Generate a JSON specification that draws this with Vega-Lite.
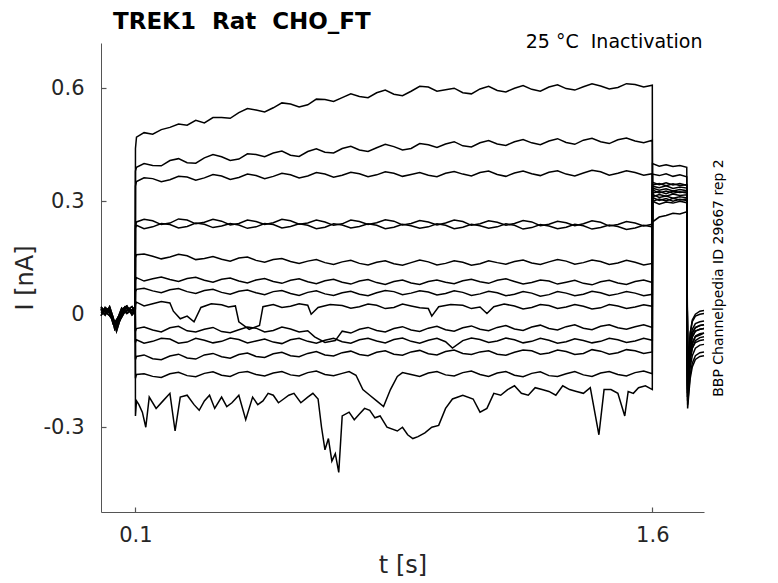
{
  "$schema": "https://vega.github.io/schema/vega-lite/v6.json",
  "width": 603,
  "height": 469,
  "autosize": {"type": "none"},
  "padding": {"left": 101, "top": 43, "right": 74, "bottom": 71},
  "background": "white",
  "title": {
    "text": "TREK1\u00a0\u00a0Rat\u00a0\u00a0CHO_FT",
    "anchor": "start",
    "frame": "group",
    "dx": 12,
    "dy": 24,
    "font": "DejaVu Sans",
    "fontSize": 23,
    "fontWeight": "bold",
    "color": "black",
    "baseline": "alphabetic",
    "offset": 4
  },
  "data": {
    "values": [
      {"k":1,"t":0,"i":0.008},{"k":1,"t":0.012,"i":0.015},{"k":1,"t":0.025,"i":0.002},{"k":1,"t":0.035,"i":-0.018},{"k":1,"t":0.045,"i":-0.035},{"k":1,"t":0.06,"i":0.006},{"k":1,"t":0.075,"i":0.018},{"k":1,"t":0.09,"i":0.004},{"k":1,"t":0.0995,"i":0.012},
      {"k":1,"t":0.1,"i":0.44},{"k":1,"t":0.103,"i":0.47},{"k":1,"t":0.125,"i":0.482},{"k":1,"t":0.15,"i":0.478},{"k":1,"t":0.175,"i":0.49},{"k":1,"t":0.2,"i":0.496},{"k":1,"t":0.225,"i":0.505},{"k":1,"t":0.25,"i":0.502},{"k":1,"t":0.275,"i":0.515},{"k":1,"t":0.3,"i":0.508},{"k":1,"t":0.35,"i":0.522},{"k":1,"t":0.4,"i":0.535},{"k":1,"t":0.45,"i":0.542},{"k":1,"t":0.5,"i":0.548},{"k":1,"t":0.55,"i":0.558},{"k":1,"t":0.6,"i":0.556},{"k":1,"t":0.65,"i":0.57},{"k":1,"t":0.7,"i":0.575},{"k":1,"t":0.75,"i":0.578},{"k":1,"t":0.8,"i":0.588},{"k":1,"t":0.85,"i":0.584},{"k":1,"t":0.9,"i":0.592},{"k":1,"t":0.95,"i":0.603},{"k":1,"t":1.0,"i":0.596},{"k":1,"t":1.05,"i":0.588},{"k":1,"t":1.1,"i":0.598},{"k":1,"t":1.15,"i":0.594},{"k":1,"t":1.2,"i":0.6},{"k":1,"t":1.25,"i":0.597},{"k":1,"t":1.3,"i":0.603},{"k":1,"t":1.35,"i":0.599},{"k":1,"t":1.4,"i":0.604},{"k":1,"t":1.45,"i":0.606},{"k":1,"t":1.5,"i":0.602},{"k":1,"t":1.55,"i":0.61},{"k":1,"t":1.6,"i":0.608},
      {"k":1,"t":0.325,"i":0.522},{"k":1,"t":0.375,"i":0.52},{"k":1,"t":0.425,"i":0.546},{"k":1,"t":0.475,"i":0.537},{"k":1,"t":0.525,"i":0.561},{"k":1,"t":0.575,"i":0.55},{"k":1,"t":0.625,"i":0.571},{"k":1,"t":0.675,"i":0.565},{"k":1,"t":0.725,"i":0.585},{"k":1,"t":0.775,"i":0.575},{"k":1,"t":0.825,"i":0.595},{"k":1,"t":0.875,"i":0.58},{"k":1,"t":0.925,"i":0.605},{"k":1,"t":0.975,"i":0.592},{"k":1,"t":1.025,"i":0.6},{"k":1,"t":1.075,"i":0.585},{"k":1,"t":1.125,"i":0.605},{"k":1,"t":1.175,"i":0.59},{"k":1,"t":1.225,"i":0.607},{"k":1,"t":1.275,"i":0.592},{"k":1,"t":1.325,"i":0.609},{"k":1,"t":1.375,"i":0.595},{"k":1,"t":1.425,"i":0.612},{"k":1,"t":1.475,"i":0.598},{"k":1,"t":1.525,"i":0.612},{"k":1,"t":1.575,"i":0.603},
      {"k":1,"t":1.6005,"i":0.245},{"k":1,"t":1.62,"i":0.258},{"k":1,"t":1.64,"i":0.262},{"k":1,"t":1.66,"i":0.268},{"k":1,"t":1.68,"i":0.266},{"k":1,"t":1.7,"i":0.272},
      {"k":1,"t":1.7025,"i":-0.21},{"k":1,"t":1.706,"i":-0.15},{"k":1,"t":1.71,"i":-0.11},{"k":1,"t":1.716,"i":-0.08},{"k":1,"t":1.725,"i":-0.06},{"k":1,"t":1.738,"i":-0.055},{"k":1,"t":1.75,"i":-0.05},

      {"k":2,"t":0,"i":0.014},{"k":2,"t":0.012,"i":-0.002},{"k":2,"t":0.025,"i":0.02},{"k":2,"t":0.035,"i":-0.008},{"k":2,"t":0.045,"i":-0.045},{"k":2,"t":0.06,"i":0.0},{"k":2,"t":0.075,"i":0.01},{"k":2,"t":0.09,"i":0.02},{"k":2,"t":0.0995,"i":0.005},
      {"k":2,"t":0.1,"i":0.38},{"k":2,"t":0.103,"i":0.39},{"k":2,"t":0.15,"i":0.395},{"k":2,"t":0.2,"i":0.408},{"k":2,"t":0.25,"i":0.402},{"k":2,"t":0.3,"i":0.415},{"k":2,"t":0.35,"i":0.418},{"k":2,"t":0.4,"i":0.412},{"k":2,"t":0.45,"i":0.424},{"k":2,"t":0.5,"i":0.428},{"k":2,"t":0.55,"i":0.422},{"k":2,"t":0.6,"i":0.432},{"k":2,"t":0.65,"i":0.43},{"k":2,"t":0.7,"i":0.44},{"k":2,"t":0.75,"i":0.436},{"k":2,"t":0.8,"i":0.442},{"k":2,"t":0.85,"i":0.445},{"k":2,"t":0.9,"i":0.44},{"k":2,"t":0.95,"i":0.45},{"k":2,"t":1.0,"i":0.452},{"k":2,"t":1.05,"i":0.447},{"k":2,"t":1.1,"i":0.455},{"k":2,"t":1.15,"i":0.452},{"k":2,"t":1.2,"i":0.458},{"k":2,"t":1.25,"i":0.455},{"k":2,"t":1.3,"i":0.46},{"k":2,"t":1.35,"i":0.456},{"k":2,"t":1.4,"i":0.462},{"k":2,"t":1.45,"i":0.458},{"k":2,"t":1.5,"i":0.463},{"k":2,"t":1.55,"i":0.46},{"k":2,"t":1.6,"i":0.462},
      {"k":2,"t":0.125,"i":0.4},{"k":2,"t":0.175,"i":0.394},{"k":2,"t":0.225,"i":0.413},{"k":2,"t":0.275,"i":0.401},{"k":2,"t":0.325,"i":0.424},{"k":2,"t":0.375,"i":0.408},{"k":2,"t":0.425,"i":0.426},{"k":2,"t":0.475,"i":0.418},{"k":2,"t":0.525,"i":0.433},{"k":2,"t":0.575,"i":0.419},{"k":2,"t":0.625,"i":0.439},{"k":2,"t":0.675,"i":0.428},{"k":2,"t":0.725,"i":0.446},{"k":2,"t":0.775,"i":0.432},{"k":2,"t":0.825,"i":0.451},{"k":2,"t":0.875,"i":0.436},{"k":2,"t":0.925,"i":0.453},{"k":2,"t":0.975,"i":0.443},{"k":2,"t":1.025,"i":0.458},{"k":2,"t":1.075,"i":0.444},{"k":2,"t":1.125,"i":0.461},{"k":2,"t":1.175,"i":0.448},{"k":2,"t":1.225,"i":0.464},{"k":2,"t":1.275,"i":0.45},{"k":2,"t":1.325,"i":0.466},{"k":2,"t":1.375,"i":0.451},{"k":2,"t":1.425,"i":0.467},{"k":2,"t":1.475,"i":0.453},{"k":2,"t":1.525,"i":0.468},{"k":2,"t":1.575,"i":0.455},
      {"k":2,"t":1.6005,"i":0.3},{"k":2,"t":1.62,"i":0.292},{"k":2,"t":1.64,"i":0.298},{"k":2,"t":1.66,"i":0.295},{"k":2,"t":1.68,"i":0.3},{"k":2,"t":1.7,"i":0.296},
      {"k":2,"t":1.7025,"i":-0.2},{"k":2,"t":1.706,"i":-0.13},{"k":2,"t":1.71,"i":-0.09},{"k":2,"t":1.716,"i":-0.06},{"k":2,"t":1.725,"i":-0.045},{"k":2,"t":1.738,"i":-0.04},{"k":2,"t":1.75,"i":-0.038},

      {"k":3,"t":0,"i":-0.004},{"k":3,"t":0.012,"i":0.018},{"k":3,"t":0.025,"i":0.008},{"k":3,"t":0.035,"i":-0.025},{"k":3,"t":0.045,"i":-0.02},{"k":3,"t":0.06,"i":0.016},{"k":3,"t":0.075,"i":0.002},{"k":3,"t":0.09,"i":0.012},{"k":3,"t":0.0995,"i":0.02},
      {"k":3,"t":0.1,"i":0.34},{"k":3,"t":0.103,"i":0.352},{"k":3,"t":0.15,"i":0.36},{"k":3,"t":0.2,"i":0.357},{"k":3,"t":0.25,"i":0.364},{"k":3,"t":0.3,"i":0.362},{"k":3,"t":0.35,"i":0.367},{"k":3,"t":0.4,"i":0.363},{"k":3,"t":0.45,"i":0.368},{"k":3,"t":0.5,"i":0.366},{"k":3,"t":0.55,"i":0.37},{"k":3,"t":0.6,"i":0.367},{"k":3,"t":0.65,"i":0.372},{"k":3,"t":0.7,"i":0.369},{"k":3,"t":0.75,"i":0.373},{"k":3,"t":0.8,"i":0.37},{"k":3,"t":0.85,"i":0.374},{"k":3,"t":0.9,"i":0.371},{"k":3,"t":0.95,"i":0.369},{"k":3,"t":1.0,"i":0.374},{"k":3,"t":1.05,"i":0.372},{"k":3,"t":1.1,"i":0.376},{"k":3,"t":1.15,"i":0.371},{"k":3,"t":1.2,"i":0.375},{"k":3,"t":1.25,"i":0.373},{"k":3,"t":1.3,"i":0.377},{"k":3,"t":1.35,"i":0.372},{"k":3,"t":1.4,"i":0.375},{"k":3,"t":1.45,"i":0.378},{"k":3,"t":1.5,"i":0.374},{"k":3,"t":1.55,"i":0.376},{"k":3,"t":1.6,"i":0.373},
      {"k":3,"t":0.125,"i":0.362},{"k":3,"t":0.175,"i":0.352},{"k":3,"t":0.225,"i":0.366},{"k":3,"t":0.275,"i":0.356},{"k":3,"t":0.325,"i":0.371},{"k":3,"t":0.375,"i":0.358},{"k":3,"t":0.425,"i":0.372},{"k":3,"t":0.475,"i":0.36},{"k":3,"t":0.525,"i":0.374},{"k":3,"t":0.575,"i":0.362},{"k":3,"t":0.625,"i":0.376},{"k":3,"t":0.675,"i":0.364},{"k":3,"t":0.725,"i":0.377},{"k":3,"t":0.775,"i":0.365},{"k":3,"t":0.825,"i":0.378},{"k":3,"t":0.875,"i":0.366},{"k":3,"t":0.925,"i":0.376},{"k":3,"t":0.975,"i":0.365},{"k":3,"t":1.025,"i":0.379},{"k":3,"t":1.075,"i":0.367},{"k":3,"t":1.125,"i":0.38},{"k":3,"t":1.175,"i":0.366},{"k":3,"t":1.225,"i":0.38},{"k":3,"t":1.275,"i":0.368},{"k":3,"t":1.325,"i":0.381},{"k":3,"t":1.375,"i":0.367},{"k":3,"t":1.425,"i":0.382},{"k":3,"t":1.475,"i":0.369},{"k":3,"t":1.525,"i":0.381},{"k":3,"t":1.575,"i":0.369},
      {"k":3,"t":1.6005,"i":0.31},{"k":3,"t":1.62,"i":0.302},{"k":3,"t":1.64,"i":0.307},{"k":3,"t":1.66,"i":0.3},{"k":3,"t":1.68,"i":0.305},{"k":3,"t":1.7,"i":0.302},
      {"k":3,"t":1.7025,"i":-0.19},{"k":3,"t":1.706,"i":-0.11},{"k":3,"t":1.71,"i":-0.07},{"k":3,"t":1.716,"i":-0.04},{"k":3,"t":1.725,"i":-0.025},{"k":3,"t":1.738,"i":-0.02},{"k":3,"t":1.75,"i":-0.018},

      {"k":4,"t":0,"i":0.02},{"k":4,"t":0.012,"i":0.006},{"k":4,"t":0.025,"i":0.014},{"k":4,"t":0.035,"i":-0.012},{"k":4,"t":0.045,"i":-0.03},{"k":4,"t":0.06,"i":0.012},{"k":4,"t":0.075,"i":0.022},{"k":4,"t":0.09,"i":-0.002},{"k":4,"t":0.0995,"i":0.008},
      {"k":4,"t":0.1,"i":0.235},{"k":4,"t":0.103,"i":0.245},{"k":4,"t":0.15,"i":0.248},{"k":4,"t":0.2,"i":0.242},{"k":4,"t":0.25,"i":0.25},{"k":4,"t":0.3,"i":0.244},{"k":4,"t":0.35,"i":0.247},{"k":4,"t":0.4,"i":0.241},{"k":4,"t":0.45,"i":0.246},{"k":4,"t":0.5,"i":0.243},{"k":4,"t":0.55,"i":0.248},{"k":4,"t":0.6,"i":0.242},{"k":4,"t":0.65,"i":0.245},{"k":4,"t":0.7,"i":0.24},{"k":4,"t":0.75,"i":0.246},{"k":4,"t":0.8,"i":0.243},{"k":4,"t":0.85,"i":0.247},{"k":4,"t":0.9,"i":0.241},{"k":4,"t":0.95,"i":0.245},{"k":4,"t":1.0,"i":0.242},{"k":4,"t":1.05,"i":0.246},{"k":4,"t":1.1,"i":0.24},{"k":4,"t":1.15,"i":0.244},{"k":4,"t":1.2,"i":0.241},{"k":4,"t":1.25,"i":0.245},{"k":4,"t":1.3,"i":0.239},{"k":4,"t":1.35,"i":0.243},{"k":4,"t":1.4,"i":0.24},{"k":4,"t":1.45,"i":0.244},{"k":4,"t":1.5,"i":0.238},{"k":4,"t":1.55,"i":0.242},{"k":4,"t":1.6,"i":0.239},
      {"k":4,"t":0.125,"i":0.252},{"k":4,"t":0.175,"i":0.238},{"k":4,"t":0.225,"i":0.253},{"k":4,"t":0.275,"i":0.24},{"k":4,"t":0.325,"i":0.252},{"k":4,"t":0.375,"i":0.237},{"k":4,"t":0.425,"i":0.25},{"k":4,"t":0.475,"i":0.238},{"k":4,"t":0.525,"i":0.252},{"k":4,"t":0.575,"i":0.239},{"k":4,"t":0.625,"i":0.25},{"k":4,"t":0.675,"i":0.236},{"k":4,"t":0.725,"i":0.25},{"k":4,"t":0.775,"i":0.238},{"k":4,"t":0.825,"i":0.251},{"k":4,"t":0.875,"i":0.237},{"k":4,"t":0.925,"i":0.249},{"k":4,"t":0.975,"i":0.237},{"k":4,"t":1.025,"i":0.25},{"k":4,"t":1.075,"i":0.236},{"k":4,"t":1.125,"i":0.248},{"k":4,"t":1.175,"i":0.236},{"k":4,"t":1.225,"i":0.249},{"k":4,"t":1.275,"i":0.235},{"k":4,"t":1.325,"i":0.247},{"k":4,"t":1.375,"i":0.235},{"k":4,"t":1.425,"i":0.248},{"k":4,"t":1.475,"i":0.234},{"k":4,"t":1.525,"i":0.246},{"k":4,"t":1.575,"i":0.234},
      {"k":4,"t":1.6005,"i":0.318},{"k":4,"t":1.62,"i":0.31},{"k":4,"t":1.64,"i":0.314},{"k":4,"t":1.66,"i":0.308},{"k":4,"t":1.68,"i":0.312},{"k":4,"t":1.7,"i":0.309},
      {"k":4,"t":1.7025,"i":-0.2},{"k":4,"t":1.706,"i":-0.12},{"k":4,"t":1.71,"i":-0.08},{"k":4,"t":1.716,"i":-0.05},{"k":4,"t":1.725,"i":-0.035},{"k":4,"t":1.738,"i":-0.03},{"k":4,"t":1.75,"i":-0.028},

      {"k":5,"t":0,"i":0.01},{"k":5,"t":0.025,"i":0.005},{"k":5,"t":0.04,"i":-0.03},{"k":5,"t":0.07,"i":0.015},{"k":5,"t":0.0995,"i":0.01},
      {"k":5,"t":0.1,"i":0.228},{"k":5,"t":0.103,"i":0.236},{"k":5,"t":0.15,"i":0.232},{"k":5,"t":0.2,"i":0.238},{"k":5,"t":0.25,"i":0.233},{"k":5,"t":0.3,"i":0.239},{"k":5,"t":0.35,"i":0.234},{"k":5,"t":0.4,"i":0.237},{"k":5,"t":0.45,"i":0.232},{"k":5,"t":0.5,"i":0.238},{"k":5,"t":0.55,"i":0.233},{"k":5,"t":0.6,"i":0.236},{"k":5,"t":0.65,"i":0.231},{"k":5,"t":0.7,"i":0.237},{"k":5,"t":0.75,"i":0.233},{"k":5,"t":0.8,"i":0.236},{"k":5,"t":0.85,"i":0.231},{"k":5,"t":0.9,"i":0.235},{"k":5,"t":0.95,"i":0.232},{"k":5,"t":1.0,"i":0.236},{"k":5,"t":1.05,"i":0.231},{"k":5,"t":1.1,"i":0.235},{"k":5,"t":1.15,"i":0.232},{"k":5,"t":1.2,"i":0.236},{"k":5,"t":1.25,"i":0.23},{"k":5,"t":1.3,"i":0.234},{"k":5,"t":1.35,"i":0.231},{"k":5,"t":1.4,"i":0.235},{"k":5,"t":1.45,"i":0.23},{"k":5,"t":1.5,"i":0.233},{"k":5,"t":1.55,"i":0.229},{"k":5,"t":1.6,"i":0.232},
      {"k":5,"t":0.125,"i":0.227},{"k":5,"t":0.175,"i":0.241},{"k":5,"t":0.225,"i":0.229},{"k":5,"t":0.275,"i":0.242},{"k":5,"t":0.325,"i":0.23},{"k":5,"t":0.375,"i":0.241},{"k":5,"t":0.425,"i":0.228},{"k":5,"t":0.475,"i":0.241},{"k":5,"t":0.525,"i":0.229},{"k":5,"t":0.575,"i":0.24},{"k":5,"t":0.625,"i":0.227},{"k":5,"t":0.675,"i":0.24},{"k":5,"t":0.725,"i":0.229},{"k":5,"t":0.775,"i":0.24},{"k":5,"t":0.825,"i":0.227},{"k":5,"t":0.875,"i":0.239},{"k":5,"t":0.925,"i":0.228},{"k":5,"t":0.975,"i":0.24},{"k":5,"t":1.025,"i":0.227},{"k":5,"t":1.075,"i":0.239},{"k":5,"t":1.125,"i":0.228},{"k":5,"t":1.175,"i":0.24},{"k":5,"t":1.225,"i":0.226},{"k":5,"t":1.275,"i":0.238},{"k":5,"t":1.325,"i":0.227},{"k":5,"t":1.375,"i":0.239},{"k":5,"t":1.425,"i":0.226},{"k":5,"t":1.475,"i":0.237},{"k":5,"t":1.525,"i":0.225},{"k":5,"t":1.575,"i":0.236},
      {"k":5,"t":1.6005,"i":0.312},{"k":5,"t":1.62,"i":0.318},{"k":5,"t":1.64,"i":0.313},{"k":5,"t":1.66,"i":0.319},{"k":5,"t":1.68,"i":0.315},{"k":5,"t":1.7,"i":0.317},
      {"k":5,"t":1.7025,"i":-0.22},{"k":5,"t":1.706,"i":-0.16},{"k":5,"t":1.71,"i":-0.12},{"k":5,"t":1.716,"i":-0.09},{"k":5,"t":1.725,"i":-0.07},{"k":5,"t":1.738,"i":-0.062},{"k":5,"t":1.75,"i":-0.06},

      {"k":6,"t":0,"i":0.004},{"k":6,"t":0.025,"i":0.016},{"k":6,"t":0.04,"i":-0.04},{"k":6,"t":0.07,"i":0.008},{"k":6,"t":0.0995,"i":0.014},
      {"k":6,"t":0.1,"i":0.15},{"k":6,"t":0.103,"i":0.158},{"k":6,"t":0.15,"i":0.154},{"k":6,"t":0.2,"i":0.152},{"k":6,"t":0.25,"i":0.155},{"k":6,"t":0.3,"i":0.148},{"k":6,"t":0.35,"i":0.146},{"k":6,"t":0.4,"i":0.149},{"k":6,"t":0.45,"i":0.143},{"k":6,"t":0.5,"i":0.145},{"k":6,"t":0.55,"i":0.14},{"k":6,"t":0.6,"i":0.141},{"k":6,"t":0.65,"i":0.137},{"k":6,"t":0.7,"i":0.139},{"k":6,"t":0.75,"i":0.135},{"k":6,"t":0.8,"i":0.138},{"k":6,"t":0.85,"i":0.134},{"k":6,"t":0.9,"i":0.137},{"k":6,"t":0.95,"i":0.139},{"k":6,"t":1.0,"i":0.135},{"k":6,"t":1.05,"i":0.138},{"k":6,"t":1.1,"i":0.134},{"k":6,"t":1.15,"i":0.137},{"k":6,"t":1.2,"i":0.14},{"k":6,"t":1.25,"i":0.136},{"k":6,"t":1.3,"i":0.139},{"k":6,"t":1.35,"i":0.141},{"k":6,"t":1.4,"i":0.137},{"k":6,"t":1.45,"i":0.14},{"k":6,"t":1.5,"i":0.136},{"k":6,"t":1.55,"i":0.138},{"k":6,"t":1.6,"i":0.135},
      {"k":6,"t":0.125,"i":0.16},{"k":6,"t":0.175,"i":0.147},{"k":6,"t":0.225,"i":0.159},{"k":6,"t":0.275,"i":0.145},{"k":6,"t":0.325,"i":0.153},{"k":6,"t":0.375,"i":0.141},{"k":6,"t":0.425,"i":0.152},{"k":6,"t":0.475,"i":0.138},{"k":6,"t":0.525,"i":0.148},{"k":6,"t":0.575,"i":0.135},{"k":6,"t":0.625,"i":0.145},{"k":6,"t":0.675,"i":0.132},{"k":6,"t":0.725,"i":0.143},{"k":6,"t":0.775,"i":0.131},{"k":6,"t":0.825,"i":0.142},{"k":6,"t":0.875,"i":0.13},{"k":6,"t":0.925,"i":0.144},{"k":6,"t":0.975,"i":0.131},{"k":6,"t":1.025,"i":0.142},{"k":6,"t":1.075,"i":0.13},{"k":6,"t":1.125,"i":0.142},{"k":6,"t":1.175,"i":0.133},{"k":6,"t":1.225,"i":0.144},{"k":6,"t":1.275,"i":0.132},{"k":6,"t":1.325,"i":0.145},{"k":6,"t":1.375,"i":0.133},{"k":6,"t":1.425,"i":0.144},{"k":6,"t":1.475,"i":0.132},{"k":6,"t":1.525,"i":0.143},{"k":6,"t":1.575,"i":0.131},
      {"k":6,"t":1.6005,"i":0.33},{"k":6,"t":1.62,"i":0.322},{"k":6,"t":1.64,"i":0.327},{"k":6,"t":1.66,"i":0.321},{"k":6,"t":1.68,"i":0.325},{"k":6,"t":1.7,"i":0.322},
      {"k":6,"t":1.7025,"i":-0.21},{"k":6,"t":1.706,"i":-0.15},{"k":6,"t":1.71,"i":-0.11},{"k":6,"t":1.716,"i":-0.075},{"k":6,"t":1.725,"i":-0.058},{"k":6,"t":1.738,"i":-0.052},{"k":6,"t":1.75,"i":-0.05},

      {"k":7,"t":0,"i":0.016},{"k":7,"t":0.025,"i":-0.004},{"k":7,"t":0.04,"i":-0.022},{"k":7,"t":0.07,"i":0.02},{"k":7,"t":0.0995,"i":0.006},
      {"k":7,"t":0.1,"i":0.09},{"k":7,"t":0.103,"i":0.097},{"k":7,"t":0.15,"i":0.094},{"k":7,"t":0.2,"i":0.092},{"k":7,"t":0.25,"i":0.095},{"k":7,"t":0.3,"i":0.09},{"k":7,"t":0.35,"i":0.093},{"k":7,"t":0.4,"i":0.088},{"k":7,"t":0.45,"i":0.091},{"k":7,"t":0.5,"i":0.087},{"k":7,"t":0.55,"i":0.09},{"k":7,"t":0.6,"i":0.086},{"k":7,"t":0.65,"i":0.089},{"k":7,"t":0.7,"i":0.085},{"k":7,"t":0.75,"i":0.088},{"k":7,"t":0.8,"i":0.084},{"k":7,"t":0.85,"i":0.087},{"k":7,"t":0.9,"i":0.083},{"k":7,"t":0.95,"i":0.087},{"k":7,"t":1.0,"i":0.085},{"k":7,"t":1.05,"i":0.089},{"k":7,"t":1.1,"i":0.086},{"k":7,"t":1.15,"i":0.09},{"k":7,"t":1.2,"i":0.087},{"k":7,"t":1.25,"i":0.084},{"k":7,"t":1.3,"i":0.088},{"k":7,"t":1.35,"i":0.085},{"k":7,"t":1.4,"i":0.082},{"k":7,"t":1.45,"i":0.086},{"k":7,"t":1.5,"i":0.083},{"k":7,"t":1.55,"i":0.087},{"k":7,"t":1.6,"i":0.084},
      {"k":7,"t":0.125,"i":0.088},{"k":7,"t":0.175,"i":0.099},{"k":7,"t":0.225,"i":0.087},{"k":7,"t":0.275,"i":0.098},{"k":7,"t":0.325,"i":0.085},{"k":7,"t":0.375,"i":0.096},{"k":7,"t":0.425,"i":0.083},{"k":7,"t":0.475,"i":0.095},{"k":7,"t":0.525,"i":0.082},{"k":7,"t":0.575,"i":0.094},{"k":7,"t":0.625,"i":0.081},{"k":7,"t":0.675,"i":0.093},{"k":7,"t":0.725,"i":0.08},{"k":7,"t":0.775,"i":0.092},{"k":7,"t":0.825,"i":0.079},{"k":7,"t":0.875,"i":0.091},{"k":7,"t":0.925,"i":0.079},{"k":7,"t":0.975,"i":0.091},{"k":7,"t":1.025,"i":0.081},{"k":7,"t":1.075,"i":0.093},{"k":7,"t":1.125,"i":0.082},{"k":7,"t":1.175,"i":0.094},{"k":7,"t":1.225,"i":0.08},{"k":7,"t":1.275,"i":0.091},{"k":7,"t":1.325,"i":0.08},{"k":7,"t":1.375,"i":0.09},{"k":7,"t":1.425,"i":0.078},{"k":7,"t":1.475,"i":0.09},{"k":7,"t":1.525,"i":0.079},{"k":7,"t":1.575,"i":0.091},
      {"k":7,"t":1.6005,"i":0.335},{"k":7,"t":1.62,"i":0.329},{"k":7,"t":1.64,"i":0.333},{"k":7,"t":1.66,"i":0.327},{"k":7,"t":1.68,"i":0.331},{"k":7,"t":1.7,"i":0.328},
      {"k":7,"t":1.7025,"i":-0.23},{"k":7,"t":1.706,"i":-0.18},{"k":7,"t":1.71,"i":-0.14},{"k":7,"t":1.716,"i":-0.11},{"k":7,"t":1.725,"i":-0.09},{"k":7,"t":1.738,"i":-0.082},{"k":7,"t":1.75,"i":-0.08},

      {"k":8,"t":0,"i":0.008},{"k":8,"t":0.012,"i":0.015},{"k":8,"t":0.025,"i":0.002},{"k":8,"t":0.035,"i":-0.018},{"k":8,"t":0.045,"i":-0.035},{"k":8,"t":0.06,"i":0.006},{"k":8,"t":0.075,"i":0.018},{"k":8,"t":0.09,"i":0.004},{"k":8,"t":0.0995,"i":0.012},
      {"k":8,"t":0.1,"i":0.06},{"k":8,"t":0.103,"i":0.066},{"k":8,"t":0.15,"i":0.062},{"k":8,"t":0.2,"i":0.065},{"k":8,"t":0.25,"i":0.06},{"k":8,"t":0.3,"i":0.063},{"k":8,"t":0.35,"i":0.058},{"k":8,"t":0.4,"i":0.061},{"k":8,"t":0.45,"i":0.057},{"k":8,"t":0.5,"i":0.06},{"k":8,"t":0.55,"i":0.055},{"k":8,"t":0.6,"i":0.058},{"k":8,"t":0.65,"i":0.054},{"k":8,"t":0.7,"i":0.057},{"k":8,"t":0.75,"i":0.053},{"k":8,"t":0.8,"i":0.057},{"k":8,"t":0.85,"i":0.06},{"k":8,"t":0.9,"i":0.056},{"k":8,"t":0.95,"i":0.059},{"k":8,"t":1.0,"i":0.055},{"k":8,"t":1.05,"i":0.058},{"k":8,"t":1.1,"i":0.054},{"k":8,"t":1.15,"i":0.057},{"k":8,"t":1.2,"i":0.053},{"k":8,"t":1.25,"i":0.056},{"k":8,"t":1.3,"i":0.052},{"k":8,"t":1.35,"i":0.056},{"k":8,"t":1.4,"i":0.053},{"k":8,"t":1.45,"i":0.057},{"k":8,"t":1.5,"i":0.054},{"k":8,"t":1.55,"i":0.056},{"k":8,"t":1.6,"i":0.053},
      {"k":8,"t":0.125,"i":0.069},{"k":8,"t":0.175,"i":0.057},{"k":8,"t":0.225,"i":0.068},{"k":8,"t":0.275,"i":0.055},{"k":8,"t":0.325,"i":0.066},{"k":8,"t":0.375,"i":0.053},{"k":8,"t":0.425,"i":0.064},{"k":8,"t":0.475,"i":0.052},{"k":8,"t":0.525,"i":0.063},{"k":8,"t":0.575,"i":0.05},{"k":8,"t":0.625,"i":0.062},{"k":8,"t":0.675,"i":0.05},{"k":8,"t":0.725,"i":0.061},{"k":8,"t":0.775,"i":0.049},{"k":8,"t":0.825,"i":0.063},{"k":8,"t":0.875,"i":0.052},{"k":8,"t":0.925,"i":0.062},{"k":8,"t":0.975,"i":0.051},{"k":8,"t":1.025,"i":0.062},{"k":8,"t":1.075,"i":0.05},{"k":8,"t":1.125,"i":0.061},{"k":8,"t":1.175,"i":0.049},{"k":8,"t":1.225,"i":0.06},{"k":8,"t":1.275,"i":0.048},{"k":8,"t":1.325,"i":0.06},{"k":8,"t":1.375,"i":0.049},{"k":8,"t":1.425,"i":0.061},{"k":8,"t":1.475,"i":0.05},{"k":8,"t":1.525,"i":0.06},{"k":8,"t":1.575,"i":0.049},
      {"k":8,"t":1.6005,"i":0.34},{"k":8,"t":1.62,"i":0.336},{"k":8,"t":1.64,"i":0.341},{"k":8,"t":1.66,"i":0.334},{"k":8,"t":1.68,"i":0.338},{"k":8,"t":1.7,"i":0.335},
      {"k":8,"t":1.7025,"i":-0.22},{"k":8,"t":1.706,"i":-0.13},{"k":8,"t":1.71,"i":-0.08},{"k":8,"t":1.716,"i":-0.05},{"k":8,"t":1.725,"i":-0.036},{"k":8,"t":1.738,"i":-0.03},{"k":8,"t":1.75,"i":-0.028},

      {"k":9,"t":0,"i":0.014},{"k":9,"t":0.012,"i":-0.002},{"k":9,"t":0.025,"i":0.02},{"k":9,"t":0.035,"i":-0.008},{"k":9,"t":0.045,"i":-0.045},{"k":9,"t":0.06,"i":0.0},{"k":9,"t":0.075,"i":0.01},{"k":9,"t":0.09,"i":0.02},{"k":9,"t":0.0995,"i":0.005},
      {"k":9,"t":0.1,"i":0.025},{"k":9,"t":0.103,"i":0.032},{"k":9,"t":0.15,"i":0.028},{"k":9,"t":0.2,"i":0.03},{"k":9,"t":0.21,"i":0.008},{"k":9,"t":0.23,"i":-0.012},{"k":9,"t":0.25,"i":-0.005},{"k":9,"t":0.27,"i":-0.02},{"k":9,"t":0.29,"i":0.018},{"k":9,"t":0.35,"i":0.025},{"k":9,"t":0.39,"i":0.022},{"k":9,"t":0.4,"i":-0.02},{"k":9,"t":0.43,"i":-0.04},{"k":9,"t":0.46,"i":-0.03},{"k":9,"t":0.47,"i":0.02},{"k":9,"t":0.5,"i":0.026},{"k":9,"t":0.55,"i":0.021},{"k":9,"t":0.6,"i":0.024},{"k":9,"t":0.61,"i":0.0},{"k":9,"t":0.63,"i":0.018},{"k":9,"t":0.7,"i":0.023},{"k":9,"t":0.75,"i":0.02},{"k":9,"t":0.8,"i":0.024},{"k":9,"t":0.85,"i":0.018},{"k":9,"t":0.9,"i":0.022},{"k":9,"t":0.95,"i":0.015},{"k":9,"t":0.96,"i":-0.005},{"k":9,"t":0.98,"i":0.02},{"k":9,"t":1.05,"i":0.024},{"k":9,"t":1.1,"i":0.019},{"k":9,"t":1.12,"i":0.002},{"k":9,"t":1.14,"i":0.02},{"k":9,"t":1.2,"i":0.022},{"k":9,"t":1.25,"i":0.018},{"k":9,"t":1.3,"i":0.023},{"k":9,"t":1.35,"i":0.019},{"k":9,"t":1.4,"i":0.021},{"k":9,"t":1.45,"i":0.017},{"k":9,"t":1.5,"i":0.022},{"k":9,"t":1.55,"i":0.019},{"k":9,"t":1.6,"i":0.021},
      {"k":9,"t":0.125,"i":0.022},{"k":9,"t":0.175,"i":0.034},{"k":9,"t":0.32,"i":0.028},{"k":9,"t":0.37,"i":0.019},{"k":9,"t":0.525,"i":0.018},{"k":9,"t":0.575,"i":0.028},{"k":9,"t":0.665,"i":0.026},{"k":9,"t":0.725,"i":0.016},{"k":9,"t":0.775,"i":0.027},{"k":9,"t":0.825,"i":0.015},{"k":9,"t":0.875,"i":0.027},{"k":9,"t":0.925,"i":0.017},{"k":9,"t":1.015,"i":0.026},{"k":9,"t":1.075,"i":0.015},{"k":9,"t":1.17,"i":0.027},{"k":9,"t":1.225,"i":0.014},{"k":9,"t":1.275,"i":0.026},{"k":9,"t":1.325,"i":0.015},{"k":9,"t":1.375,"i":0.026},{"k":9,"t":1.425,"i":0.014},{"k":9,"t":1.475,"i":0.026},{"k":9,"t":1.525,"i":0.015},{"k":9,"t":1.575,"i":0.025},
      {"k":9,"t":1.6005,"i":0.343},{"k":9,"t":1.62,"i":0.347},{"k":9,"t":1.64,"i":0.341},{"k":9,"t":1.66,"i":0.346},{"k":9,"t":1.68,"i":0.342},{"k":9,"t":1.7,"i":0.344},
      {"k":9,"t":1.7025,"i":-0.24},{"k":9,"t":1.706,"i":-0.2},{"k":9,"t":1.71,"i":-0.16},{"k":9,"t":1.716,"i":-0.13},{"k":9,"t":1.725,"i":-0.11},{"k":9,"t":1.738,"i":-0.102},{"k":9,"t":1.75,"i":-0.1},

      {"k":10,"t":0,"i":-0.004},{"k":10,"t":0.012,"i":0.018},{"k":10,"t":0.025,"i":0.008},{"k":10,"t":0.035,"i":-0.025},{"k":10,"t":0.045,"i":-0.02},{"k":10,"t":0.06,"i":0.016},{"k":10,"t":0.075,"i":0.002},{"k":10,"t":0.09,"i":0.012},{"k":10,"t":0.0995,"i":0.02},
      {"k":10,"t":0.1,"i":-0.045},{"k":10,"t":0.103,"i":-0.038},{"k":10,"t":0.15,"i":-0.042},{"k":10,"t":0.2,"i":-0.036},{"k":10,"t":0.25,"i":-0.044},{"k":10,"t":0.3,"i":-0.04},{"k":10,"t":0.35,"i":-0.046},{"k":10,"t":0.4,"i":-0.041},{"k":10,"t":0.45,"i":-0.037},{"k":10,"t":0.5,"i":-0.043},{"k":10,"t":0.55,"i":-0.039},{"k":10,"t":0.6,"i":-0.044},{"k":10,"t":0.62,"i":-0.06},{"k":10,"t":0.65,"i":-0.075},{"k":10,"t":0.68,"i":-0.07},{"k":10,"t":0.7,"i":-0.045},{"k":10,"t":0.75,"i":-0.04},{"k":10,"t":0.8,"i":-0.043},{"k":10,"t":0.85,"i":-0.038},{"k":10,"t":0.9,"i":-0.042},{"k":10,"t":0.95,"i":-0.037},{"k":10,"t":1.0,"i":-0.041},{"k":10,"t":1.05,"i":-0.036},{"k":10,"t":1.1,"i":-0.04},{"k":10,"t":1.15,"i":-0.035},{"k":10,"t":1.2,"i":-0.039},{"k":10,"t":1.25,"i":-0.034},{"k":10,"t":1.3,"i":-0.038},{"k":10,"t":1.35,"i":-0.033},{"k":10,"t":1.4,"i":-0.037},{"k":10,"t":1.45,"i":-0.032},{"k":10,"t":1.5,"i":-0.036},{"k":10,"t":1.55,"i":-0.033},{"k":10,"t":1.6,"i":-0.035},
      {"k":10,"t":0.125,"i":-0.034},{"k":10,"t":0.175,"i":-0.047},{"k":10,"t":0.225,"i":-0.032},{"k":10,"t":0.275,"i":-0.047},{"k":10,"t":0.325,"i":-0.035},{"k":10,"t":0.375,"i":-0.049},{"k":10,"t":0.425,"i":-0.034},{"k":10,"t":0.475,"i":-0.047},{"k":10,"t":0.525,"i":-0.034},{"k":10,"t":0.575,"i":-0.047},{"k":10,"t":0.725,"i":-0.05},{"k":10,"t":0.775,"i":-0.035},{"k":10,"t":0.825,"i":-0.047},{"k":10,"t":0.875,"i":-0.033},{"k":10,"t":0.925,"i":-0.046},{"k":10,"t":0.975,"i":-0.032},{"k":10,"t":1.025,"i":-0.045},{"k":10,"t":1.075,"i":-0.031},{"k":10,"t":1.125,"i":-0.044},{"k":10,"t":1.175,"i":-0.03},{"k":10,"t":1.225,"i":-0.043},{"k":10,"t":1.275,"i":-0.029},{"k":10,"t":1.325,"i":-0.042},{"k":10,"t":1.375,"i":-0.028},{"k":10,"t":1.425,"i":-0.041},{"k":10,"t":1.475,"i":-0.028},{"k":10,"t":1.525,"i":-0.04},{"k":10,"t":1.575,"i":-0.028},
      {"k":10,"t":1.6005,"i":0.35},{"k":10,"t":1.62,"i":0.344},{"k":10,"t":1.64,"i":0.349},{"k":10,"t":1.66,"i":0.343},{"k":10,"t":1.68,"i":0.347},{"k":10,"t":1.7,"i":0.342},
      {"k":10,"t":1.7025,"i":-0.25},{"k":10,"t":1.706,"i":-0.21},{"k":10,"t":1.71,"i":-0.17},{"k":10,"t":1.716,"i":-0.14},{"k":10,"t":1.725,"i":-0.12},{"k":10,"t":1.738,"i":-0.112},{"k":10,"t":1.75,"i":-0.11},

      {"k":11,"t":0,"i":0.02},{"k":11,"t":0.012,"i":0.006},{"k":11,"t":0.025,"i":0.014},{"k":11,"t":0.035,"i":-0.012},{"k":11,"t":0.045,"i":-0.03},{"k":11,"t":0.06,"i":0.012},{"k":11,"t":0.075,"i":0.022},{"k":11,"t":0.09,"i":-0.002},{"k":11,"t":0.0995,"i":0.008},
      {"k":11,"t":0.1,"i":-0.075},{"k":11,"t":0.103,"i":-0.068},{"k":11,"t":0.15,"i":-0.072},{"k":11,"t":0.2,"i":-0.066},{"k":11,"t":0.25,"i":-0.074},{"k":11,"t":0.3,"i":-0.069},{"k":11,"t":0.35,"i":-0.072},{"k":11,"t":0.4,"i":-0.067},{"k":11,"t":0.45,"i":-0.071},{"k":11,"t":0.5,"i":-0.074},{"k":11,"t":0.55,"i":-0.068},{"k":11,"t":0.6,"i":-0.072},{"k":11,"t":0.65,"i":-0.069},{"k":11,"t":0.7,"i":-0.073},{"k":11,"t":0.75,"i":-0.068},{"k":11,"t":0.8,"i":-0.071},{"k":11,"t":0.85,"i":-0.067},{"k":11,"t":0.9,"i":-0.072},{"k":11,"t":0.95,"i":-0.069},{"k":11,"t":1.0,"i":-0.073},{"k":11,"t":1.02,"i":-0.09},{"k":11,"t":1.05,"i":-0.07},{"k":11,"t":1.1,"i":-0.067},{"k":11,"t":1.15,"i":-0.071},{"k":11,"t":1.2,"i":-0.068},{"k":11,"t":1.25,"i":-0.072},{"k":11,"t":1.3,"i":-0.069},{"k":11,"t":1.35,"i":-0.073},{"k":11,"t":1.4,"i":-0.07},{"k":11,"t":1.45,"i":-0.072},{"k":11,"t":1.5,"i":-0.068},{"k":11,"t":1.55,"i":-0.071},{"k":11,"t":1.6,"i":-0.069},
      {"k":11,"t":0.125,"i":-0.077},{"k":11,"t":0.175,"i":-0.064},{"k":11,"t":0.225,"i":-0.077},{"k":11,"t":0.275,"i":-0.064},{"k":11,"t":0.325,"i":-0.076},{"k":11,"t":0.375,"i":-0.063},{"k":11,"t":0.425,"i":-0.076},{"k":11,"t":0.475,"i":-0.066},{"k":11,"t":0.525,"i":-0.078},{"k":11,"t":0.575,"i":-0.064},{"k":11,"t":0.625,"i":-0.077},{"k":11,"t":0.675,"i":-0.064},{"k":11,"t":0.725,"i":-0.077},{"k":11,"t":0.775,"i":-0.064},{"k":11,"t":0.825,"i":-0.076},{"k":11,"t":0.875,"i":-0.063},{"k":11,"t":0.925,"i":-0.077},{"k":11,"t":0.975,"i":-0.064},{"k":11,"t":1.075,"i":-0.063},{"k":11,"t":1.125,"i":-0.075},{"k":11,"t":1.175,"i":-0.063},{"k":11,"t":1.225,"i":-0.076},{"k":11,"t":1.275,"i":-0.064},{"k":11,"t":1.325,"i":-0.077},{"k":11,"t":1.375,"i":-0.065},{"k":11,"t":1.425,"i":-0.076},{"k":11,"t":1.475,"i":-0.064},{"k":11,"t":1.525,"i":-0.075},{"k":11,"t":1.575,"i":-0.064},
      {"k":11,"t":1.6005,"i":0.372},{"k":11,"t":1.62,"i":0.368},{"k":11,"t":1.64,"i":0.373},{"k":11,"t":1.66,"i":0.366},{"k":11,"t":1.68,"i":0.37},{"k":11,"t":1.7,"i":0.365},
      {"k":11,"t":1.7025,"i":-0.2},{"k":11,"t":1.706,"i":-0.1},{"k":11,"t":1.71,"i":-0.05},{"k":11,"t":1.716,"i":-0.02},{"k":11,"t":1.725,"i":-0.005},{"k":11,"t":1.738,"i":0.0},{"k":11,"t":1.75,"i":0.002},

      {"k":12,"t":0,"i":0.01},{"k":12,"t":0.025,"i":0.005},{"k":12,"t":0.04,"i":-0.03},{"k":12,"t":0.07,"i":0.015},{"k":12,"t":0.0995,"i":0.01},
      {"k":12,"t":0.1,"i":-0.12},{"k":12,"t":0.103,"i":-0.112},{"k":12,"t":0.15,"i":-0.118},{"k":12,"t":0.2,"i":-0.111},{"k":12,"t":0.25,"i":-0.116},{"k":12,"t":0.3,"i":-0.108},{"k":12,"t":0.35,"i":-0.113},{"k":12,"t":0.4,"i":-0.107},{"k":12,"t":0.45,"i":-0.112},{"k":12,"t":0.5,"i":-0.105},{"k":12,"t":0.55,"i":-0.11},{"k":12,"t":0.6,"i":-0.104},{"k":12,"t":0.65,"i":-0.108},{"k":12,"t":0.7,"i":-0.102},{"k":12,"t":0.75,"i":-0.107},{"k":12,"t":0.8,"i":-0.101},{"k":12,"t":0.85,"i":-0.106},{"k":12,"t":0.9,"i":-0.1},{"k":12,"t":0.95,"i":-0.105},{"k":12,"t":1.0,"i":-0.099},{"k":12,"t":1.05,"i":-0.104},{"k":12,"t":1.1,"i":-0.1},{"k":12,"t":1.15,"i":-0.106},{"k":12,"t":1.2,"i":-0.101},{"k":12,"t":1.25,"i":-0.097},{"k":12,"t":1.3,"i":-0.103},{"k":12,"t":1.35,"i":-0.099},{"k":12,"t":1.4,"i":-0.104},{"k":12,"t":1.45,"i":-0.098},{"k":12,"t":1.5,"i":-0.102},{"k":12,"t":1.55,"i":-0.097},{"k":12,"t":1.6,"i":-0.1},
      {"k":12,"t":0.125,"i":-0.108},{"k":12,"t":0.175,"i":-0.121},{"k":12,"t":0.225,"i":-0.106},{"k":12,"t":0.275,"i":-0.119},{"k":12,"t":0.325,"i":-0.104},{"k":12,"t":0.375,"i":-0.117},{"k":12,"t":0.425,"i":-0.103},{"k":12,"t":0.475,"i":-0.115},{"k":12,"t":0.525,"i":-0.101},{"k":12,"t":0.575,"i":-0.113},{"k":12,"t":0.625,"i":-0.099},{"k":12,"t":0.675,"i":-0.111},{"k":12,"t":0.725,"i":-0.098},{"k":12,"t":0.775,"i":-0.11},{"k":12,"t":0.825,"i":-0.097},{"k":12,"t":0.875,"i":-0.109},{"k":12,"t":0.925,"i":-0.096},{"k":12,"t":0.975,"i":-0.108},{"k":12,"t":1.025,"i":-0.095},{"k":12,"t":1.075,"i":-0.107},{"k":12,"t":1.125,"i":-0.097},{"k":12,"t":1.175,"i":-0.109},{"k":12,"t":1.225,"i":-0.095},{"k":12,"t":1.275,"i":-0.106},{"k":12,"t":1.325,"i":-0.095},{"k":12,"t":1.375,"i":-0.107},{"k":12,"t":1.425,"i":-0.094},{"k":12,"t":1.475,"i":-0.106},{"k":12,"t":1.525,"i":-0.094},{"k":12,"t":1.575,"i":-0.104},
      {"k":12,"t":1.6005,"i":0.4},{"k":12,"t":1.62,"i":0.393},{"k":12,"t":1.64,"i":0.397},{"k":12,"t":1.66,"i":0.392},{"k":12,"t":1.68,"i":0.395},{"k":12,"t":1.7,"i":0.39},
      {"k":12,"t":1.7025,"i":-0.21},{"k":12,"t":1.706,"i":-0.11},{"k":12,"t":1.71,"i":-0.05},{"k":12,"t":1.716,"i":-0.015},{"k":12,"t":1.725,"i":0.0},{"k":12,"t":1.738,"i":0.008},{"k":12,"t":1.75,"i":0.01},

      {"k":13,"t":0,"i":0.004},{"k":13,"t":0.025,"i":0.016},{"k":13,"t":0.04,"i":-0.04},{"k":13,"t":0.07,"i":0.008},{"k":13,"t":0.0995,"i":0.014},
      {"k":13,"t":0.1,"i":-0.17},{"k":13,"t":0.103,"i":-0.16},{"k":13,"t":0.15,"i":-0.165},{"k":13,"t":0.2,"i":-0.158},{"k":13,"t":0.25,"i":-0.163},{"k":13,"t":0.3,"i":-0.157},{"k":13,"t":0.35,"i":-0.162},{"k":13,"t":0.4,"i":-0.155},{"k":13,"t":0.45,"i":-0.16},{"k":13,"t":0.5,"i":-0.156},{"k":13,"t":0.55,"i":-0.161},{"k":13,"t":0.6,"i":-0.155},{"k":13,"t":0.65,"i":-0.16},{"k":13,"t":0.7,"i":-0.157},{"k":13,"t":0.74,"i":-0.162},{"k":13,"t":0.76,"i":-0.2},{"k":13,"t":0.78,"i":-0.215},{"k":13,"t":0.8,"i":-0.23},{"k":13,"t":0.82,"i":-0.245},{"k":13,"t":0.84,"i":-0.2},{"k":13,"t":0.86,"i":-0.165},{"k":13,"t":0.9,"i":-0.16},{"k":13,"t":0.95,"i":-0.156},{"k":13,"t":1.0,"i":-0.161},{"k":13,"t":1.05,"i":-0.155},{"k":13,"t":1.1,"i":-0.16},{"k":13,"t":1.15,"i":-0.156},{"k":13,"t":1.2,"i":-0.162},{"k":13,"t":1.25,"i":-0.157},{"k":13,"t":1.3,"i":-0.163},{"k":13,"t":1.35,"i":-0.158},{"k":13,"t":1.4,"i":-0.161},{"k":13,"t":1.45,"i":-0.156},{"k":13,"t":1.5,"i":-0.16},{"k":13,"t":1.55,"i":-0.155},{"k":13,"t":1.6,"i":-0.158},
      {"k":13,"t":0.125,"i":-0.158},{"k":13,"t":0.175,"i":-0.168},{"k":13,"t":0.225,"i":-0.154},{"k":13,"t":0.275,"i":-0.166},{"k":13,"t":0.325,"i":-0.153},{"k":13,"t":0.375,"i":-0.165},{"k":13,"t":0.425,"i":-0.152},{"k":13,"t":0.475,"i":-0.164},{"k":13,"t":0.525,"i":-0.152},{"k":13,"t":0.575,"i":-0.164},{"k":13,"t":0.625,"i":-0.151},{"k":13,"t":0.675,"i":-0.163},{"k":13,"t":0.72,"i":-0.152},{"k":13,"t":0.875,"i":-0.155},{"k":13,"t":0.925,"i":-0.165},{"k":13,"t":0.975,"i":-0.152},{"k":13,"t":1.025,"i":-0.164},{"k":13,"t":1.075,"i":-0.151},{"k":13,"t":1.125,"i":-0.165},{"k":13,"t":1.175,"i":-0.152},{"k":13,"t":1.225,"i":-0.166},{"k":13,"t":1.275,"i":-0.153},{"k":13,"t":1.325,"i":-0.165},{"k":13,"t":1.375,"i":-0.152},{"k":13,"t":1.425,"i":-0.165},{"k":13,"t":1.475,"i":-0.152},{"k":13,"t":1.525,"i":-0.164},{"k":13,"t":1.575,"i":-0.151},
      {"k":13,"t":1.6005,"i":0.3},{"k":13,"t":1.62,"i":0.306},{"k":13,"t":1.64,"i":0.301},{"k":13,"t":1.66,"i":0.308},{"k":13,"t":1.68,"i":0.303},{"k":13,"t":1.7,"i":0.306},
      {"k":13,"t":1.7025,"i":-0.23},{"k":13,"t":1.706,"i":-0.17},{"k":13,"t":1.71,"i":-0.12},{"k":13,"t":1.716,"i":-0.09},{"k":13,"t":1.725,"i":-0.075},{"k":13,"t":1.738,"i":-0.07},{"k":13,"t":1.75,"i":-0.068},

      {"k":14,"t":0,"i":0.016},{"k":14,"t":0.025,"i":-0.004},{"k":14,"t":0.04,"i":-0.022},{"k":14,"t":0.07,"i":0.02},{"k":14,"t":0.0995,"i":0.006},
      {"k":14,"t":0.1,"i":-0.27},{"k":14,"t":0.103,"i":-0.23},{"k":14,"t":0.12,"i":-0.26},{"k":14,"t":0.13,"i":-0.3},{"k":14,"t":0.14,"i":-0.22},{"k":14,"t":0.16,"i":-0.25},{"k":14,"t":0.18,"i":-0.23},{"k":14,"t":0.2,"i":-0.21},{"k":14,"t":0.215,"i":-0.31},{"k":14,"t":0.23,"i":-0.22},{"k":14,"t":0.27,"i":-0.24},{"k":14,"t":0.3,"i":-0.23},{"k":14,"t":0.33,"i":-0.25},{"k":14,"t":0.35,"i":-0.22},{"k":14,"t":0.38,"i":-0.235},{"k":14,"t":0.4,"i":-0.215},{"k":14,"t":0.42,"i":-0.28},{"k":14,"t":0.44,"i":-0.22},{"k":14,"t":0.47,"i":-0.23},{"k":14,"t":0.5,"i":-0.215},{"k":14,"t":0.53,"i":-0.225},{"k":14,"t":0.56,"i":-0.21},{"k":14,"t":0.6,"i":-0.22},{"k":14,"t":0.63,"i":-0.225},{"k":14,"t":0.64,"i":-0.3},{"k":14,"t":0.65,"i":-0.36},{"k":14,"t":0.66,"i":-0.33},{"k":14,"t":0.67,"i":-0.39},{"k":14,"t":0.68,"i":-0.37},{"k":14,"t":0.69,"i":-0.42},{"k":14,"t":0.7,"i":-0.27},{"k":14,"t":0.72,"i":-0.26},{"k":14,"t":0.75,"i":-0.265},{"k":14,"t":0.78,"i":-0.255},{"k":14,"t":0.81,"i":-0.27},{"k":14,"t":0.83,"i":-0.3},{"k":14,"t":0.86,"i":-0.31},{"k":14,"t":0.89,"i":-0.32},{"k":14,"t":0.92,"i":-0.325},{"k":14,"t":0.94,"i":-0.315},{"k":14,"t":0.96,"i":-0.3},{"k":14,"t":0.98,"i":-0.295},{"k":14,"t":1.0,"i":-0.25},{"k":14,"t":1.02,"i":-0.225},{"k":14,"t":1.05,"i":-0.215},{"k":14,"t":1.08,"i":-0.225},{"k":14,"t":1.1,"i":-0.26},{"k":14,"t":1.12,"i":-0.25},{"k":14,"t":1.14,"i":-0.21},{"k":14,"t":1.18,"i":-0.2},{"k":14,"t":1.22,"i":-0.21},{"k":14,"t":1.26,"i":-0.195},{"k":14,"t":1.3,"i":-0.205},{"k":14,"t":1.34,"i":-0.19},{"k":14,"t":1.38,"i":-0.205},{"k":14,"t":1.42,"i":-0.195},{"k":14,"t":1.445,"i":-0.32},{"k":14,"t":1.46,"i":-0.2},{"k":14,"t":1.5,"i":-0.21},{"k":14,"t":1.52,"i":-0.27},{"k":14,"t":1.53,"i":-0.205},{"k":14,"t":1.56,"i":-0.195},{"k":14,"t":1.6,"i":-0.2},
      {"k":14,"t":0.11,"i":-0.24},{"k":14,"t":0.25,"i":-0.215},{"k":14,"t":0.285,"i":-0.255},{"k":14,"t":0.315,"i":-0.215},{"k":14,"t":0.365,"i":-0.245},{"k":14,"t":0.39,"i":-0.225},{"k":14,"t":0.455,"i":-0.24},{"k":14,"t":0.485,"i":-0.21},{"k":14,"t":0.515,"i":-0.235},{"k":14,"t":0.545,"i":-0.215},{"k":14,"t":0.58,"i":-0.235},{"k":14,"t":0.615,"i":-0.21},{"k":14,"t":0.735,"i":-0.28},{"k":14,"t":0.765,"i":-0.25},{"k":14,"t":0.795,"i":-0.275},{"k":14,"t":0.875,"i":-0.3},{"k":14,"t":0.905,"i":-0.33},{"k":14,"t":1.16,"i":-0.215},{"k":14,"t":1.2,"i":-0.19},{"k":14,"t":1.24,"i":-0.215},{"k":14,"t":1.28,"i":-0.2},{"k":14,"t":1.32,"i":-0.215},{"k":14,"t":1.36,"i":-0.2},{"k":14,"t":1.4,"i":-0.21},{"k":14,"t":1.48,"i":-0.2},{"k":14,"t":1.545,"i":-0.21},{"k":14,"t":1.58,"i":-0.19},
      {"k":14,"t":1.6005,"i":0.322},{"k":14,"t":1.62,"i":0.326},{"k":14,"t":1.64,"i":0.32},{"k":14,"t":1.66,"i":0.327},{"k":14,"t":1.68,"i":0.323},{"k":14,"t":1.7,"i":0.325},
      {"k":14,"t":1.7025,"i":-0.22},{"k":14,"t":1.706,"i":-0.14},{"k":14,"t":1.71,"i":-0.09},{"k":14,"t":1.716,"i":-0.06},{"k":14,"t":1.725,"i":-0.045},{"k":14,"t":1.738,"i":-0.04},{"k":14,"t":1.75,"i":-0.038}
    ]
  },
  "layer": [
    {
      "mark": {"type": "line", "color": "black", "strokeWidth": 1.5},
      "encoding": {
        "x": {
          "field": "t",
          "type": "quantitative",
          "scale": {"domain": [0, 1.75], "nice": false, "zero": false},
          "axis": {
            "orient": "bottom",
            "values": [0.1, 1.6],
            "format": ".1f",
            "title": "t [s]",
            "ticks": false,
            "labelPadding": 12,
            "titlePadding": 8
          }
        },
        "y": {
          "field": "i",
          "type": "quantitative",
          "scale": {"domain": [-0.525, 0.72], "nice": false, "zero": false},
          "axis": {
            "orient": "left",
            "values": [-0.3, 0, 0.3, 0.6],
            "labelExpr": "datum.value == 0 ? '0' : (datum.value < 0 ? '-' + format(-datum.value, '.1f') : format(datum.value, '.1f'))",
            "title": "I [nA]",
            "ticks": false,
            "labelPadding": 17,
            "titlePadding": 6
          }
        },
        "detail": {"field": "k", "type": "nominal"}
      }
    },
    {
      "transform": [{"filter": "datum.k == 1 && datum.t == 0"}],
      "mark": {"type": "point", "opacity": 0},
      "encoding": {
        "x": {
          "field": "t",
          "type": "quantitative",
          "scale": {"domain": [0, 1.75], "nice": false, "zero": false},
          "axis": {
            "orient": "top",
            "offset": -469,
            "values": [0.1, 1.6],
            "labels": false,
            "ticks": true,
            "tickSize": 5,
            "tickWidth": 1.2,
            "domain": false,
            "title": "25 °C\u00a0\u00a0Inactivation",
            "titleFontSize": 19,
            "titleColor": "black",
            "titleAnchor": "end",
            "titleAlign": "right",
            "titleBaseline": "alphabetic",
            "titleX": 601,
            "titleY": -465
          }
        },
        "y": {
          "field": "i",
          "type": "quantitative",
          "scale": {"domain": [-0.525, 0.72], "nice": false, "zero": false},
          "axis": {
            "orient": "right",
            "offset": -603,
            "values": [-0.3, 0, 0.3, 0.6],
            "labels": false,
            "ticks": true,
            "tickSize": 5,
            "tickWidth": 1.2,
            "domain": false,
            "title": "BBP Channelpedia ID 29667 rep 2",
            "titleFontSize": 14,
            "titleColor": "black",
            "titleAngle": 270,
            "titleAlign": "center",
            "titleBaseline": "middle",
            "titleX": 617,
            "titleY": 234.5
          }
        }
      }
    }
  ],
  "resolve": {"axis": {"x": "independent", "y": "independent"}},
  "config": {
    "view": {"stroke": null},
    "axis": {
      "grid": false,
      "labelFont": "DejaVu Sans",
      "labelFontSize": 21,
      "labelColor": "#262626",
      "titleFont": "DejaVu Sans",
      "titleFontSize": 24,
      "titleFontWeight": "normal",
      "titleColor": "#262626",
      "domainColor": "#555555",
      "tickColor": "#555555"
    }
  }
}
